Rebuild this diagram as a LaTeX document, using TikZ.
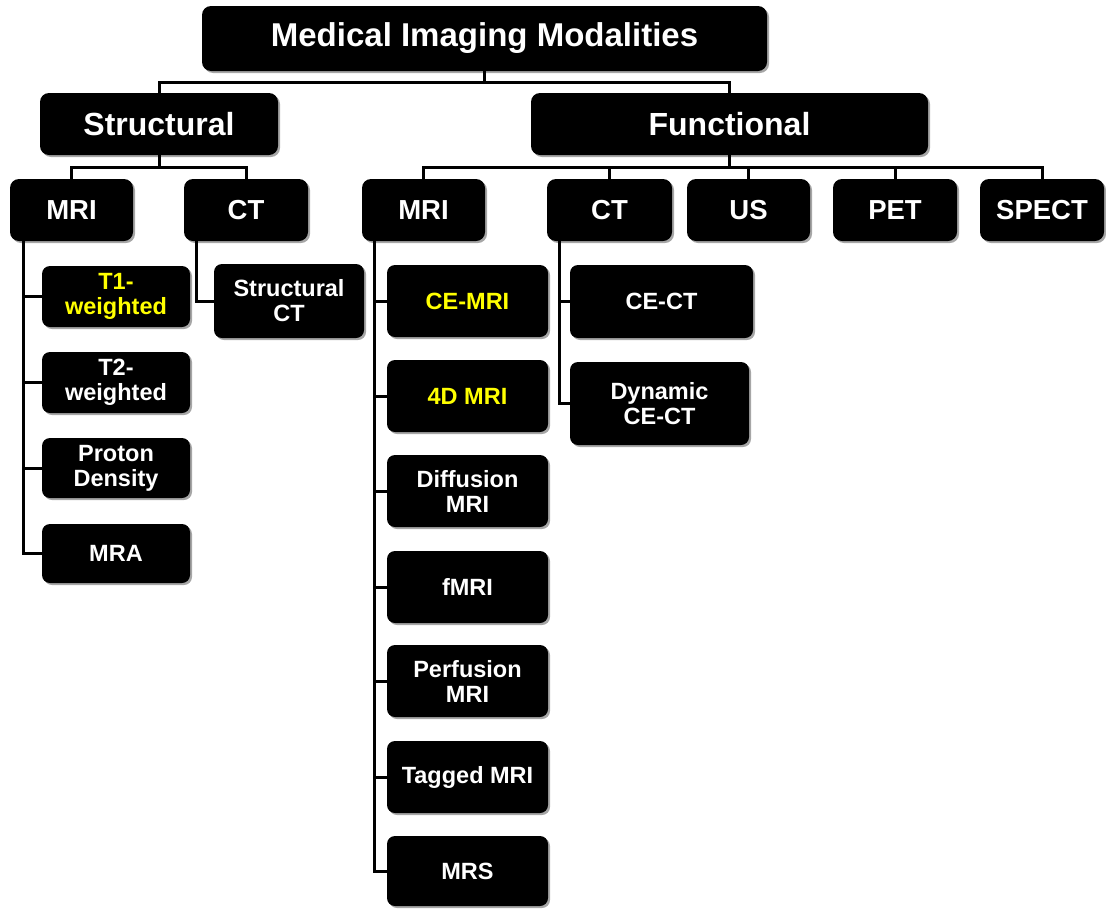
\documentclass[tikz,border=0pt]{standalone}
\usepackage{fontspec}
\setmainfont{Liberation Sans}
\usetikzlibrary{shadows}
\begin{document}
\begin{tikzpicture}[x=1pt,y=-1pt,
  nbox/.style={fill=black, rounded corners=9pt, inner sep=0pt, align=center,
    text=white, font=\bfseries,
    drop shadow={shadow xshift=2pt, shadow yshift=-2pt, fill=black!35, opacity=1}},
  top/.style={nbox, font=\fontsize{33}{36}\selectfont\bfseries},
  lvlone/.style={nbox, font=\fontsize{32}{34}\selectfont\bfseries},
  lvltwo/.style={nbox, font=\fontsize{27.5}{30}\selectfont\bfseries},
  leaf/.style={nbox, rounded corners=8pt, font=\fontsize{23.5}{25}\selectfont\bfseries},
  hl/.style={text={rgb,255:red,255;green,255;blue,0}},
  conn/.style={line width=3pt, line join=miter}
]
\useasboundingbox (0,0) rectangle (1106,908);

% nodes
\node[top, minimum width=565pt, minimum height=65pt] (root) at (484.5,38.5) {Medical Imaging Modalities};
\node[lvlone, minimum width=238pt, minimum height=62pt] (struct) at (159,124) {Structural};
\node[lvlone, minimum width=397pt, minimum height=62pt] (func) at (729.5,124) {Functional};

\node[lvltwo, minimum width=123pt, minimum height=62pt] (smri) at (71.5,210) {MRI};
\node[lvltwo, minimum width=124pt, minimum height=62pt] (sct) at (246,210) {CT};
\node[lvltwo, minimum width=123pt, minimum height=62pt] (fmri) at (423.5,210) {MRI};
\node[lvltwo, minimum width=125pt, minimum height=62pt] (fct) at (609.5,210) {CT};
\node[lvltwo, minimum width=123pt, minimum height=62pt] (us) at (748.5,210) {US};
\node[lvltwo, minimum width=124pt, minimum height=62pt] (pet) at (895,210) {PET};
\node[lvltwo, minimum width=124pt, minimum height=62pt] (spect) at (1042,210) {SPECT};

% structural MRI children
\node[leaf, hl, minimum width=148pt, minimum height=61pt] (t1) at (116,296.5) {T1-\\weighted};
\node[leaf, minimum width=148pt, minimum height=61pt] (t2) at (116,382.5) {T2-\\weighted};
\node[leaf, minimum width=148pt, minimum height=60pt] (pd) at (116,468) {Proton\\Density};
\node[leaf, minimum width=148pt, minimum height=59pt] (mra) at (116,553.5) {MRA};

% structural CT child
\node[leaf, minimum width=150pt, minimum height=74pt] (sctc) at (289,301) {Structural\\CT};

% functional MRI children
\node[leaf, hl, minimum width=161pt, minimum height=72pt] (cemri) at (467.5,301) {CE-MRI};
\node[leaf, hl, minimum width=161pt, minimum height=72pt] (fdmri) at (467.5,396) {4D MRI};
\node[leaf, minimum width=161pt, minimum height=72pt] (dmri) at (467.5,491) {Diffusion\\MRI};
\node[leaf, minimum width=161pt, minimum height=72pt] (fm) at (467.5,587) {fMRI};
\node[leaf, minimum width=161pt, minimum height=72pt] (pmri) at (467.5,681) {Perfusion\\MRI};
\node[leaf, minimum width=161pt, minimum height=72pt] (tmri) at (467.5,777) {Tagged MRI};
\node[leaf, minimum width=161pt, minimum height=70pt] (mrs) at (467.5,871) {MRS};

% functional CT children
\node[leaf, minimum width=183pt, minimum height=73pt] (cect) at (661.5,301.5) {CE-CT};
\node[leaf, minimum width=179pt, minimum height=83pt] (dcect) at (659.5,403.5) {Dynamic\\CE-CT};

% connectors
\draw[conn] (root.south) -- ++(0,11) -| (struct.north);
\draw[conn] (root.south) -- ++(0,11) -| (func.north);

\draw[conn] (struct.south) -- ++(0,12) -| (smri.north);
\draw[conn] (struct.south) -- ++(0,12) -| (sct.north);

\foreach \c in {fmri,fct,us,pet,spect}
  \draw[conn] (func.south) -- ++(0,12) -| (\c.north);

\foreach \c in {t1,t2,pd,mra}
  \draw[conn] ([xshift=13.5pt]smri.south west) |- (\c.west);

\draw[conn] ([xshift=13pt]sct.south west) |- (sctc.west);

\foreach \c in {cemri,fdmri,dmri,fm,pmri,tmri,mrs}
  \draw[conn] ([xshift=13pt]fmri.south west) |- (\c.west);

\foreach \c in {cect,dcect}
  \draw[conn] ([xshift=13pt]fct.south west) |- (\c.west);
\end{tikzpicture}
\end{document}
